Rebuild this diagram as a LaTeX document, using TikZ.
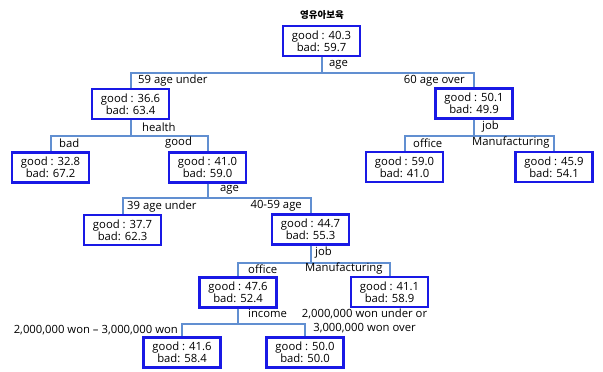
\documentclass[tikz,border=0pt]{standalone}
\usepackage{fontspec}
\setmainfont{Open Sans}
\newfontfamily\krfont{Noto Sans CJK KR}
\usepackage{xcolor}
\usepackage{tikz}
\definecolor{boxBlue}{rgb}{0.1,0.1,0.9}
\definecolor{branchBlue}{rgb}{0.38,0.56,0.82}

\tikzset{
    leaf/.style={draw=boxBlue, line width=2.2pt, fill=white, minimum width=77pt, minimum height=30pt, inner sep=0pt, align=center, font=\fontsize{11.3}{12}\selectfont},
    branch/.style={draw=branchBlue, line width=2pt},
    lbl/.style={inner sep=0pt, font=\fontsize{11.3}{12}\selectfont}
}

\begin{document}
\begin{tikzpicture}[x=1pt, y=-1pt]
    \useasboundingbox (0,0) rectangle (603,372);

    % title
    \node[lbl, font=\krfont\bfseries\fontsize{9.5}{10}\selectfont] (title) at (322,15) {영유아보육};

    % draw boxes
    \node[leaf] (root) at (321.5,41) {good : 40.3\\bad: 59.7};
    \node[leaf] (under59) at (130.5,104) {good : 36.6\\bad: 63.4};
    \node[leaf] (over60) at (474,103.5) {good : 50.1\\bad: 49.9};
    \node[leaf] (hbad) at (50.5,167.5) {good : 32.8\\bad: 67.2};
    \node[leaf] (hgood) at (207.5,167.5) {good : 41.0\\bad: 59.0};
    \node[leaf] (office) at (404.5,167) {good : 59.0\\bad: 41.0};
    \node[leaf] (manuf) at (554,167) {good : 45.9\\bad: 54.1};
    \node[leaf] (under39) at (122.5,230) {good : 37.7\\bad: 62.3};
    \node[leaf] (age4059) at (310.5,229.5) {good : 44.7\\bad: 55.3};
    \node[leaf] (office2) at (238,292.5) {good : 47.6\\bad: 52.4};
    \node[leaf] (manuf2) at (389.5,292) {good : 41.1\\bad: 58.9};
    \node[leaf] (mid) at (182,352.5) {good : 41.6\\bad: 58.4};
    \node[leaf] (rest) at (305,352.5) {good : 50.0\\bad: 50.0};

    % draw branches
    \draw[branch] (root.south) -- (321.5,73) -| (under59.north);
    \draw[branch] (root.south) -- (321.5,73) -| (over60.north);
    \draw[branch] (under59.south) -- (130.5,136) -| (hbad.north);
    \draw[branch] (under59.south) -- (130.5,136) -| (hgood.north);
    \draw[branch] (over60.south) -- (474,136) -| (office.north);
    \draw[branch] (over60.south) -- (474,136) -| (manuf.north);
    \draw[branch] (hgood.south) -- (207.5,198) -| (under39.north);
    \draw[branch] (hgood.south) -- (207.5,198) -| (age4059.north);
    \draw[branch] (age4059.south) -- (310.5,263) -| (office2.north);
    \draw[branch] (age4059.south) -- (310.5,263) -| (manuf2.north);
    \draw[branch] (office2.south) -- (238,324) -| (mid.north);
    \draw[branch] (office2.south) -- (238,324) -| (rest.north);

    % draw split labels
    \node[lbl, anchor=west] (sAge) at (329,65) {age};
    \node[lbl, anchor=west] (l59) at (138,81) {59 age under};
    \node[lbl, anchor=east] (l60) at (465,81) {60 age over};
    \node[lbl, anchor=west] (sHealth) at (142,127) {health};
    \node[lbl, anchor=west] (lBad) at (59,143) {bad};
    \node[lbl, anchor=west] (lGood) at (165,143) {good};
    \node[lbl, anchor=west] (sJob) at (482,127) {job};
    \node[lbl, anchor=west] (lOffice) at (413,143) {office};
    \node[lbl, anchor=west] (lManuf) at (472,143) {Manufacturing};
    \node[lbl, anchor=west] (sAge2) at (220,190) {age};
    \node[lbl, anchor=west] (l39) at (127,207) {39 age under};
    \node[lbl, anchor=east] (l4059) at (302,206) {40-59 age};
    \node[lbl, anchor=west] (sJob2) at (315,253) {job};
    \node[lbl, anchor=west] (lOffice2) at (248,269) {office};
    \node[lbl, anchor=west] (lManuf2) at (305,269) {Manufacturing};
    \node[lbl, anchor=west] (sIncome) at (248,313) {income};
    \node[lbl, anchor=east] (lMid) at (178,330) {2,000,000 won – 3,000,000 won};
    \node[lbl, align=center, font=\fontsize{11.3}{14}\selectfont] (lRest) at (364.5,321) {2,000,000 won under or\\3,000,000 won over};
\end{tikzpicture}
\end{document}
